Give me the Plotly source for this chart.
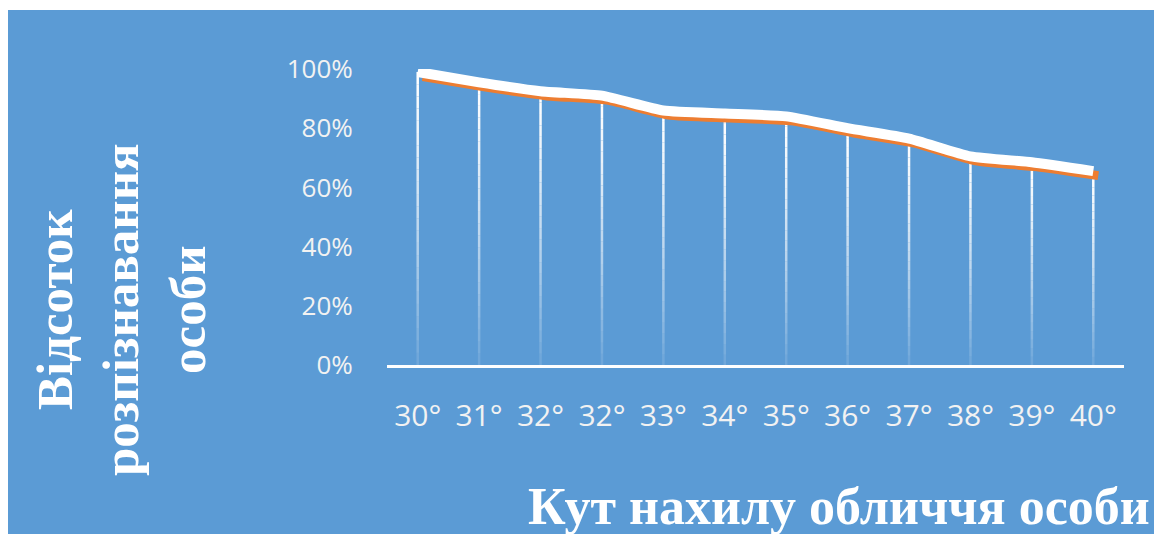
import plotly.graph_objects as go

# ---- data ----
angle_labels = ["30°", "31°", "32°", "32°", "33°", "34°", "35°", "36°", "37°", "38°", "39°", "40°"]
positions = list(range(len(angle_labels)))
recognition = [0.99, 0.955, 0.925, 0.91, 0.86, 0.85, 0.84, 0.80, 0.765, 0.705, 0.685, 0.655]
y_ticks = [0, 0.2, 0.4, 0.6, 0.8, 1.0]

# ---- geometry ----
W, H = 1154, 534
L, R, T, B = 387, 30, 69, 169
PW, PH = W - L - R, H - T - B
n = len(angle_labels)
px_per_cat = PW / n
shadow_dx = 5 / px_per_cat      # shadow offset in axis units (right)
shadow_dy = 4.5 / PH            # shadow offset in axis units (down)

BLUE = "#5B9BD5"
ORANGE = "#ED7D31"
TXT = "#F2F2F2"

fig = go.Figure()

# orange shadow line (overlay axes x2/y2, shifted right/down)
fig.add_trace(go.Scatter(
    x=positions, y=recognition, xaxis="x2", yaxis="y2",
    mode="lines", line=dict(color=ORANGE, width=9, shape="spline", smoothing=0.5),
    hoverinfo="skip", showlegend=False, cliponaxis=False,
))
# main white line (overlay axes x3/y3, same scale as main axes, drawn on top)
fig.add_trace(go.Scatter(
    x=positions, y=recognition, xaxis="x3", yaxis="y3",
    mode="lines", line=dict(color="white", width=10, shape="spline", smoothing=0.5),
    showlegend=False, cliponaxis=False,
))

shapes = [dict(type="rect", xref="paper", yref="paper",
               x0=(8 - L) / PW, x1=(W + 5 - L) / PW,
               y0=((H - B) - (H + 5)) / PH, y1=((H - B) - 10) / PH,
               fillcolor=BLUE, line=dict(width=0), layer="below")]

# drop lines with fading gradient
N = 24
for xi, v in zip(positions, recognition):
    for k in range(N):
        y0 = v * (1 - k / N)
        y1 = v * (1 - (k + 1) / N)
        op = 1 - 0.9 * ((k + 0.5) / N) ** 1.3
        shapes.append(dict(type="line", xref="x", yref="y", x0=xi, x1=xi, y0=y0, y1=y1,
                           line=dict(color="white", width=2.5), opacity=op, layer="below"))

fig.update_layout(
    width=W, height=H,
    margin=dict(l=L, r=R, t=T, b=B),
    paper_bgcolor="white",
    plot_bgcolor="rgba(0,0,0,0)",
    shapes=shapes,
    xaxis=dict(range=[-0.5, n - 0.5], tickmode="array", tickvals=positions, ticktext=angle_labels,
               showgrid=False, zeroline=False, showline=True, linecolor="white", linewidth=2.5,
               ticks="outside", ticklen=22, tickcolor="rgba(0,0,0,0)",
               tickfont=dict(family="Open Sans", size=30, color=TXT), fixedrange=True),
    yaxis=dict(range=[0, 1], tickmode="array", tickvals=y_ticks, tickformat=".0%",
               showgrid=False, zeroline=False, showline=False,
               ticks="outside", ticklen=28, tickcolor="rgba(0,0,0,0)",
               tickfont=dict(family="Open Sans", size=26, color=TXT), fixedrange=True),
    xaxis2=dict(overlaying="x", range=[-0.5 - shadow_dx, n - 0.5 - shadow_dx], visible=False),
    yaxis2=dict(overlaying="y", range=[shadow_dy, 1 + shadow_dy], visible=False),
    xaxis3=dict(overlaying="x", range=[-0.5, n - 0.5], visible=False),
    yaxis3=dict(overlaying="y", range=[0, 1], visible=False),
    annotations=[
        dict(text="<b>Відсоток<br>розпізнавання<br>особи</b>", textangle=-90,
             xref="paper", yref="paper", x=(121 - L) / PW, y=((H - B) - 310) / PH,
             xanchor="center", yanchor="middle", showarrow=False,
             font=dict(family="Liberation Serif", size=51, color="white")),
        dict(text="<b>Кут нахилу обличчя особи</b>",
             xref="paper", yref="paper", x=(1152 - L) / PW, y=((H - B) - 506) / PH,
             xanchor="right", yanchor="middle", showarrow=False,
             font=dict(family="Liberation Serif", size=52, color="white")),
    ],
)

fig.write_html("out.html")
